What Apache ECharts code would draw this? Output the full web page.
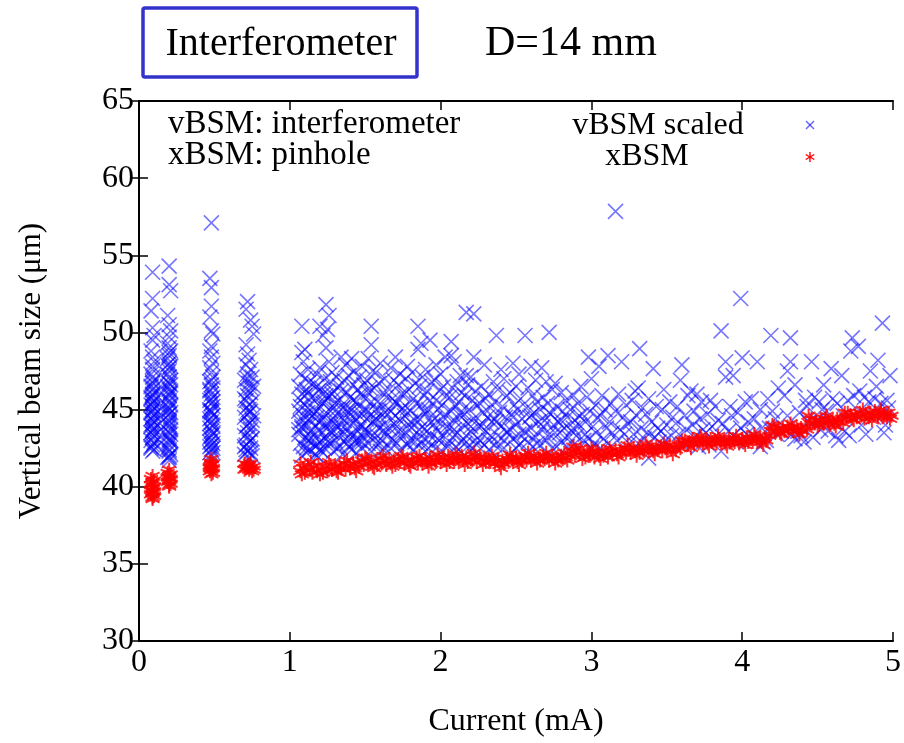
<!DOCTYPE html>
<html><head><meta charset="utf-8">
<script src="https://cdn.jsdelivr.net/npm/echarts@6/dist/echarts.min.js"></script>
<style>html,body{margin:0;padding:0;background:#fff}#c{width:904px;height:743px}</style>
</head><body><div id="c"></div>
<script>
// ---- tick labels ----
const xTicks = [0, 1, 2, 3, 4, 5];
const yTicks = [30, 35, 40, 45, 50, 55, 60, 65];

// ---- vBSM scaled (interferometer), [current mA, size um] ----
const vbsmBunch1 = [[0.09,53.9],[0.09,52.2],[0.08,51.4],[0.09,50.3],[0.10,49.8],[0.09,49.5],[0.08,48.8],[0.09,48.4],[0.10,48.1],[0.09,47.6],[0.08,47.3],[0.09,47.1],[0.10,46.9],[0.09,46.7],[0.08,46.5],[0.09,46.3],[0.10,46.1],[0.09,45.9],[0.08,45.8],[0.10,45.6],[0.09,45.4],[0.08,45.3],[0.10,45.1],[0.09,45.0],[0.08,44.8],[0.10,44.7],[0.09,44.5],[0.08,44.4],[0.10,44.2],[0.09,44.1],[0.08,43.9],[0.10,43.8],[0.09,43.6],[0.08,43.5],[0.10,43.3],[0.09,43.2],[0.08,43.0],[0.10,42.9],[0.09,42.7],[0.08,42.6],[0.10,42.4],[0.09,42.3],[0.09,46.0],[0.09,44.9],[0.09,43.7],[0.09,45.5],[0.09,44.3]];
const vbsmBunch2 = [[0.20,54.3],[0.20,53.1],[0.21,52.7],[0.19,51.1],[0.20,50.5],[0.21,50.1],[0.20,49.7],[0.19,49.3],[0.20,49.0],[0.21,48.8],[0.20,48.5],[0.19,48.3],[0.20,48.0],[0.21,47.8],[0.20,47.5],[0.19,47.3],[0.20,47.1],[0.21,46.9],[0.20,46.7],[0.19,46.5],[0.20,46.3],[0.21,46.1],[0.20,45.9],[0.19,45.7],[0.20,45.5],[0.21,45.3],[0.20,45.1],[0.19,44.9],[0.20,44.7],[0.21,44.5],[0.20,44.3],[0.19,44.1],[0.20,43.9],[0.21,43.7],[0.20,43.5],[0.19,43.3],[0.20,43.1],[0.21,42.9],[0.20,42.7],[0.19,42.5],[0.20,42.3],[0.21,42.1],[0.20,41.9],[0.20,41.7],[0.20,46.0],[0.20,45.0],[0.20,44.0],[0.20,43.0],[0.19,47.9],[0.21,46.6],[0.19,44.6],[0.21,43.4],[0.20,42.0]];
const vbsmBunch3 = [[0.48,57.1],[0.47,53.5],[0.48,52.9],[0.48,51.7],[0.47,51.0],[0.48,50.1],[0.49,49.9],[0.48,49.1],[0.47,48.8],[0.48,48.4],[0.49,48.0],[0.47,47.7],[0.48,47.4],[0.49,47.1],[0.47,46.8],[0.48,46.6],[0.49,46.4],[0.47,46.2],[0.48,46.0],[0.49,45.8],[0.47,45.6],[0.48,45.4],[0.49,45.2],[0.47,45.0],[0.48,44.8],[0.49,44.6],[0.47,44.4],[0.48,44.2],[0.49,44.0],[0.47,43.8],[0.48,43.6],[0.49,43.4],[0.47,43.2],[0.48,43.0],[0.49,42.8],[0.47,42.6],[0.48,42.4],[0.49,42.2],[0.48,42.0],[0.47,44.9],[0.49,43.9],[0.48,43.3],[0.47,42.9],[0.49,42.5],[0.48,44.5],[0.48,45.7]];
const vbsmBunch4 = [[0.72,52.0],[0.71,51.5],[0.74,50.8],[0.75,50.4],[0.76,49.9],[0.71,49.2],[0.72,48.6],[0.73,48.2],[0.71,47.9],[0.74,47.6],[0.72,47.3],[0.75,47.1],[0.70,46.9],[0.73,46.7],[0.76,46.5],[0.71,46.3],[0.74,46.1],[0.72,45.9],[0.70,45.7],[0.75,45.5],[0.73,45.3],[0.71,45.1],[0.74,44.9],[0.72,44.7],[0.70,44.5],[0.75,44.3],[0.73,44.1],[0.71,43.9],[0.74,43.7],[0.72,43.5],[0.70,43.3],[0.75,43.1],[0.73,42.9],[0.71,42.7],[0.74,42.5],[0.72,42.3],[0.70,42.1],[0.75,42.0],[0.73,41.9],[0.72,44.0],[0.74,43.0],[0.71,42.4],[0.73,45.0],[0.76,44.6]];
const vbsmBunchCore = [[0.09,47.8],[0.09,46.8],[0.10,46.4],[0.08,45.7],[0.09,45.2],[0.10,44.6],[0.08,44.0],[0.09,43.4],[0.10,42.8],[0.08,42.5],[0.20,48.7],[0.20,47.7],[0.19,46.8],[0.21,46.2],[0.20,45.6],[0.19,45.2],[0.21,44.8],[0.20,44.2],[0.19,43.6],[0.21,43.0],[0.20,42.4],[0.19,41.9],[0.48,46.9],[0.47,46.3],[0.49,45.5],[0.48,44.9],[0.47,44.1],[0.49,43.5],[0.48,42.7],[0.47,42.2],[0.72,47.0],[0.74,46.4],[0.71,45.6],[0.73,44.8],[0.75,44.0],[0.72,43.2],[0.70,42.6],[0.74,42.2]];
const vbsmRampLow = [
[1.08,50.4],[1.10,48.9],[1.08,48.7],[1.09,48.1],[1.12,47.6],[1.07,47.3],[1.10,47.0],[1.13,46.8],[1.06,46.5],[1.11,46.3],[1.08,46.0],[1.14,45.8],[1.07,45.6],[1.10,45.3],[1.12,45.1],[1.06,44.9],[1.09,44.6],[1.13,44.4],[1.07,44.2],[1.11,44.0],[1.08,43.8],[1.14,43.6],[1.06,43.4],[1.10,43.2],[1.12,43.0],[1.07,42.8],[1.09,42.6],[1.13,42.4],[1.11,42.2],[1.08,42.0],[1.10,45.9],[1.12,44.8],[1.08,43.9],[1.14,42.9],
[1.24,51.8],[1.26,51.1],[1.20,50.4],[1.25,50.2],[1.22,49.8],[1.24,49.0],[1.20,47.7],[1.18,47.3],[1.23,47.0],[1.16,46.7],[1.21,46.4],[1.19,46.2],[1.24,45.9],[1.17,45.7],[1.22,45.4],[1.20,45.2],[1.16,45.0],[1.23,44.7],[1.18,44.5],[1.21,44.3],[1.25,44.1],[1.17,43.9],[1.19,43.7],[1.22,43.5],[1.16,43.3],[1.24,43.1],[1.20,42.9],[1.18,42.7],[1.23,42.5],[1.21,42.3],[1.17,42.1],[1.19,41.9],[1.22,46.0],[1.18,44.9],[1.24,43.8],[1.20,42.4],
[1.26,48.1],[1.34,48.4],[1.28,47.4],[1.31,47.1],[1.27,46.8],[1.33,46.5],[1.29,46.2],[1.26,45.9],[1.32,45.6],[1.30,45.4],[1.35,45.1],[1.27,44.9],[1.33,44.6],[1.29,44.4],[1.26,44.2],[1.31,43.9],[1.34,43.7],[1.28,43.5],[1.32,43.3],[1.30,43.0],[1.27,42.8],[1.33,42.6],[1.29,42.3],[1.35,42.1],[1.31,45.0],[1.28,46.0],[1.34,44.0],
[1.41,48.3],[1.37,47.9],[1.43,47.5],[1.39,47.2],[1.36,46.9],[1.42,46.6],[1.45,46.3],[1.38,46.1],[1.40,45.8],[1.44,45.5],[1.37,45.3],[1.41,45.0],[1.39,44.8],[1.43,44.5],[1.36,44.3],[1.42,44.1],[1.38,43.8],[1.45,43.6],[1.40,43.4],[1.37,43.1],[1.43,42.9],[1.39,42.6],[1.41,42.4],[1.44,42.2],[1.38,44.9],[1.42,43.3],
[1.54,50.4],[1.54,49.2],[1.52,48.3],[1.48,47.8],[1.55,47.5],[1.46,47.1],[1.51,46.9],[1.49,46.6],[1.53,46.4],[1.47,46.0],[1.50,45.7],[1.54,45.5],[1.46,45.2],[1.52,44.9],[1.48,44.7],[1.51,44.4],[1.55,44.2],[1.47,44.0],[1.50,43.7],[1.53,43.5],[1.49,43.2],[1.46,43.0],[1.52,42.8],[1.48,42.5],[1.54,42.3],[1.50,45.0],[1.47,43.9]];
const vbsmRampMid = [
[1.60,48.0],[1.57,47.4],[1.63,47.0],[1.59,46.7],[1.56,46.4],[1.62,46.1],[1.64,45.8],[1.58,45.5],[1.61,45.3],[1.57,45.0],[1.63,44.8],[1.60,44.5],[1.56,44.3],[1.62,44.0],[1.59,43.8],[1.64,43.5],[1.58,43.3],[1.61,43.0],[1.57,42.8],[1.63,42.5],[1.60,42.3],[1.59,44.9],
[1.70,48.4],[1.67,47.7],[1.73,47.3],[1.69,46.9],[1.72,46.6],[1.66,46.3],[1.74,46.0],[1.68,45.7],[1.71,45.4],[1.75,45.1],[1.67,44.9],[1.70,44.6],[1.73,44.3],[1.69,44.1],[1.66,43.8],[1.72,43.6],[1.74,43.3],[1.68,43.1],[1.71,42.8],[1.67,42.5],[1.73,42.3],[1.70,45.5],
[1.85,50.4],[1.85,48.9],[1.78,47.8],[1.81,47.4],[1.77,47.0],[1.83,46.7],[1.79,46.3],[1.76,46.0],[1.82,45.7],[1.84,45.4],[1.78,45.1],[1.80,44.9],[1.76,44.6],[1.83,44.3],[1.79,44.0],[1.81,43.8],[1.77,43.5],[1.84,43.2],[1.80,43.0],[1.78,42.7],[1.82,42.4],
[1.87,49.3],[1.93,49.5],[1.90,47.6],[1.88,47.1],[1.94,46.8],[1.86,46.5],[1.91,46.2],[1.89,45.9],[1.93,45.6],[1.87,45.3],[1.92,45.0],[1.90,44.7],[1.86,44.4],[1.94,44.2],[1.88,43.9],[1.91,43.6],[1.93,43.3],[1.89,43.1],[1.87,42.8],[1.92,42.5],[1.90,42.3],
[2.03,48.4],[1.97,47.9],[2.00,47.3],[1.96,46.9],[2.02,46.5],[1.99,46.2],[2.04,45.9],[1.97,45.6],[2.01,45.3],[1.98,45.0],[2.03,44.7],[1.96,44.4],[2.00,44.1],[2.04,43.9],[1.98,43.6],[2.02,43.3],[1.99,43.0],[2.05,42.8],[1.97,42.5],[2.01,42.3],
[2.07,49.4],[2.07,48.5],[2.09,48.1],[2.13,47.2],[2.11,46.8],[2.08,46.4],[2.14,46.1],[2.06,45.8],[2.12,45.5],[2.10,45.2],[2.07,44.9],[2.13,44.6],[2.09,44.3],[2.15,44.0],[2.06,43.8],[2.11,43.5],[2.08,43.2],[2.14,42.9],[2.10,42.6],[2.12,42.4],
[2.17,51.3],[2.22,51.2],[2.22,48.4],[2.17,47.2],[2.20,47.1],[2.18,46.6],[2.23,46.2],[2.16,45.9],[2.21,45.6],[2.24,45.3],[2.19,45.0],[2.16,44.7],[2.22,44.4],[2.18,44.1],[2.25,43.9],[2.20,43.6],[2.17,43.3],[2.23,43.0],[2.19,42.7],[2.21,42.5],
[2.29,47.9],[2.35,46.8],[2.27,46.5],[2.32,46.0],[2.30,45.7],[2.26,45.4],[2.33,45.1],[2.28,44.8],[2.31,44.5],[2.34,44.2],[2.27,43.9],[2.30,43.6],[2.33,43.3],[2.26,43.0],[2.29,42.7],[2.32,42.4],
[2.37,49.8],[2.40,47.6],[2.42,47.0],[2.38,46.3],[2.44,45.9],[2.36,45.5],[2.41,45.2],[2.39,44.8],[2.43,44.5],[2.37,44.2],[2.40,43.9],[2.44,43.6],[2.38,43.3],[2.42,43.0],[2.36,42.7],[2.41,42.4],
[2.48,48.0],[2.52,47.3],[2.50,46.5],[2.46,46.1],[2.53,45.7],[2.49,45.3],[2.51,45.0],[2.47,44.7],[2.54,44.4],[2.50,44.0],[2.46,43.7],[2.52,43.4],[2.48,43.1],[2.53,42.8],[2.50,42.5],
[2.56,49.8],[2.60,47.8],[2.63,46.9],[2.58,46.4],[2.61,45.9],[2.64,45.5],[2.57,45.1],[2.62,44.8],[2.59,44.5],[2.65,44.2],[2.60,43.8],[2.56,43.5],[2.63,43.2],[2.58,42.9],[2.61,42.6],
[2.72,50.0],[2.67,47.7],[2.70,46.8],[2.74,46.3],[2.68,45.8],[2.71,45.4],[2.66,45.0],[2.73,44.7],[2.69,44.3],[2.75,44.0],[2.67,43.7],[2.72,43.4],[2.70,43.0],[2.66,42.7],[2.74,42.5],
[2.76,46.7],[2.80,46.1],[2.83,45.6],[2.77,45.2],[2.81,44.9],[2.84,44.5],[2.78,44.2],[2.82,43.8],[2.79,43.5],[2.85,43.2],[2.80,42.9],[2.77,42.6],
[2.93,46.5],[2.88,45.9],[2.91,45.4],[2.86,45.0],[2.94,44.7],[2.89,44.3],[2.92,44.0],[2.87,43.6],[2.90,43.3],[2.95,43.0],[2.88,42.7]];
const vbsmRampDense = [[1.06,43.7],[1.09,44.3],[1.11,42.5],[1.13,43.3],[1.15,44.6],[1.07,45.2],[1.12,46.1],[1.17,42.6],[1.19,44.2],[1.21,43.0],[1.23,45.5],[1.18,46.5],[1.25,42.9],[1.27,43.6],[1.29,45.1],[1.32,42.5],[1.30,44.1],[1.34,46.2],[1.36,43.4],[1.38,42.8],[1.40,44.4],[1.42,45.6],[1.44,43.0],[1.46,44.6],[1.48,42.9],[1.50,43.5],[1.52,46.1],[1.55,43.3],[1.57,44.4],[1.59,42.7],[1.62,43.6],[1.65,44.7],[1.68,42.9],[1.71,43.9],[1.74,45.0],[1.77,42.8],[1.80,44.2],[1.83,42.9],[1.86,43.7],[1.89,44.9],[1.92,42.9],[1.95,44.0],[1.98,43.1],[2.02,44.5],[2.05,42.6],[2.09,43.7],[2.13,44.8],[2.16,42.8],[2.20,43.9],[2.24,42.7],[2.28,44.1],[2.32,43.0],[2.36,44.4],[2.40,42.7],[2.44,43.5],[2.48,44.5],[2.52,42.7],[2.56,43.6],[2.60,44.6],[2.64,42.8],[2.68,43.9],[2.72,44.8],[2.76,43.5],[2.80,44.3],[2.84,42.6],[2.88,43.8],[2.92,44.6],[2.96,43.4]];
const vbsmRampHigh = [
[2.98,48.4],[3.05,47.8],[3.00,47.0],[2.97,45.8],[3.03,45.3],[2.99,44.9],[3.04,44.5],[2.96,44.2],[3.01,43.9],[3.03,43.5],[2.98,43.1],[3.02,42.8],[3.00,42.5],
[3.11,48.5],[3.07,45.9],[3.13,45.4],[3.09,45.0],[3.06,44.6],[3.12,44.2],[3.10,43.8],[3.14,43.5],[3.08,43.1],[3.11,42.8],[3.06,42.5],
[3.16,57.85],[3.20,48.1],[3.18,46.0],[3.23,45.3],[3.16,44.9],[3.21,44.5],[3.24,44.1],[3.19,43.7],[3.22,43.4],[3.17,43.0],[3.25,42.8],
[3.32,48.95],[3.31,46.4],[3.29,46.2],[3.27,45.6],[3.34,45.1],[3.30,44.6],[3.26,44.2],[3.33,43.8],[3.28,43.4],[3.35,43.1],[3.31,42.8],
[3.41,47.65],[3.38,45.7],[3.43,45.2],[3.36,44.7],[3.40,44.2],[3.44,43.8],[3.37,43.5],[3.42,43.2],[3.38,41.85],[3.45,42.9],
[3.48,46.3],[3.52,45.5],[3.47,45.0],[3.54,44.5],[3.50,44.0],[3.46,43.6],[3.53,43.3],[3.49,43.0],
[3.60,47.9],[3.59,46.9],[3.66,46.2],[3.64,45.9],[3.57,45.2],[3.62,44.6],[3.56,44.1],[3.63,43.7],[3.58,43.4],[3.61,42.7],
[3.70,46.0],[3.73,45.5],[3.68,44.9],[3.72,44.4],[3.67,44.0],[3.74,43.7],[3.69,43.3],[3.71,42.6],
[3.79,45.6],[3.82,45.2],[3.77,44.7],[3.84,44.3],[3.80,43.9],[3.76,43.5],[3.83,43.3],[3.78,42.7],
[3.86,50.1],[3.89,48.1],[3.89,47.1],[3.94,47.2],[3.92,45.2],[3.93,44.6],[3.87,44.1],[3.91,43.6],[3.86,42.3],[3.94,43.3],
[3.99,52.2],[4.00,48.35],[4.02,45.5],[3.97,44.8],[4.04,44.2],[3.99,43.8],[4.03,43.4],[3.96,42.9],
[4.10,48.1],[4.06,45.7],[4.12,45.0],[4.08,44.4],[4.13,43.8],[4.07,43.4],[4.12,42.6],[4.14,42.9],
[4.19,49.8],[4.17,45.7],[4.24,46.4],[4.22,44.4],[4.20,44.9],[4.18,43.8],[4.23,43.4],[4.16,43.0],
[4.32,49.65],[4.30,47.5],[4.32,48.1],[4.28,45.9],[4.35,46.6],[4.26,43.6],[4.35,43.1],[4.30,44.6],[4.33,43.4],
[4.39,43.3],[4.42,45.6],[4.38,44.8],[4.44,44.2],[4.37,43.6],[4.41,42.9],[4.43,45.2],
[4.46,48.1],[4.48,45.8],[4.51,45.5],[4.54,46.6],[4.53,45.0],[4.49,44.3],[4.47,43.2],[4.52,43.7],
[4.59,47.65],[4.57,43.6],[4.62,43.3],[4.60,45.7],[4.63,45.4],[4.56,44.9],[4.61,44.2],[4.64,43.0],
[4.66,47.2],[4.73,49.65],[4.72,48.8],[4.68,43.6],[4.70,45.6],[4.74,45.9],[4.67,44.6],[4.71,43.3],
[4.77,49.1],[4.79,44.0],[4.81,45.8],[4.84,45.5],[4.85,47.5],[4.78,46.2],[4.82,43.4],[4.80,44.7],
[4.93,50.6],[4.90,48.2],[4.89,46.5],[4.98,47.2],[4.95,44.0],[4.88,45.7],[4.92,45.4],[4.96,45.6],[4.87,44.5],[4.94,43.5],[4.97,45.1]];

// ---- xBSM (pinhole) ----
const xbsmBunch1 = [[0.09,40.7],[0.08,40.5],[0.10,40.4],[0.09,40.3],[0.08,40.1],[0.10,40.0],[0.09,39.9],[0.08,39.8],[0.10,39.7],[0.09,39.6],[0.08,39.5],[0.10,39.4],[0.09,39.3],[0.09,39.2],[0.09,40.2],[0.09,39.7]];
const xbsmBunch2 = [[0.20,41.1],[0.19,40.9],[0.21,40.8],[0.20,40.7],[0.19,40.6],[0.21,40.5],[0.20,40.4],[0.19,40.3],[0.21,40.2],[0.20,40.1],[0.20,40.0],[0.20,40.6]];
const xbsmBunch3 = [[0.48,41.8],[0.47,41.6],[0.49,41.5],[0.48,41.4],[0.47,41.3],[0.49,41.2],[0.48,41.1],[0.47,41.0],[0.49,40.9],[0.48,40.8],[0.48,41.5],[0.47,41.2]];
const xbsmBunch4 = [[0.70,41.5],[0.72,41.4],[0.74,41.5],[0.76,41.3],[0.71,41.2],[0.73,41.1],[0.75,41.0],[0.70,41.1],[0.72,41.3],[0.74,41.2],[0.76,41.1],[0.73,41.4]];
const xbsmRampLow = [[1.07,41.0],[1.07,41.5],[1.09,41.2],[1.10,40.9],[1.12,41.4],[1.13,41.1],[1.15,40.9],[1.16,41.3],[1.18,41.0],[1.19,41.4],[1.21,41.1],[1.22,40.9],[1.24,41.3],[1.25,41.0],[1.27,41.4],[1.28,41.1],[1.30,41.3],[1.31,41.0],[1.33,41.4],[1.34,41.2],[1.36,41.5],[1.37,41.1],[1.39,41.4],[1.40,41.2],[1.42,41.5],[1.43,41.2],
[1.45,41.6],[1.46,41.3],[1.48,41.7],[1.49,41.4],[1.51,41.8],[1.52,41.5],[1.54,41.6],[1.55,41.3],[1.57,41.7],[1.58,41.4],
[1.60,41.8],[1.61,41.5],[1.63,41.7],[1.64,41.4],[1.66,41.8],[1.67,41.5],[1.69,41.7],[1.70,41.4],[1.72,41.8],[1.73,41.6],[1.75,41.9],[1.76,41.5],[1.78,41.7],[1.79,41.4],[1.81,41.8],[1.82,41.6],[1.84,41.9],[1.85,41.5],[1.87,41.7],[1.88,41.5],[1.90,41.8],[1.91,41.6],[1.93,41.9],[1.94,41.5],[1.96,41.7],[1.97,41.6],[1.99,41.9]];
const xbsmRampMid = [[2.00,41.6],[2.02,41.9],[2.03,41.7],[2.05,42.0],[2.06,41.6],[2.08,41.8],[2.09,41.6],[2.11,41.9],[2.12,41.7],[2.14,42.0],[2.15,41.7],[2.17,41.9],[2.18,41.6],[2.20,41.8],[2.21,41.7],[2.23,42.0],[2.24,41.6],[2.26,41.9],[2.27,41.7],[2.29,41.9],[2.30,41.6],[2.32,41.8],[2.33,41.6],
[2.35,41.8],[2.36,41.5],[2.38,41.7],[2.39,41.4],[2.41,41.7],[2.42,41.5],[2.44,41.8],
[2.45,41.6],[2.47,41.9],[2.48,41.7],[2.50,41.9],[2.51,41.6],[2.53,41.8],[2.54,41.7],[2.56,42.0],[2.57,41.7],[2.59,41.9],[2.60,41.7],[2.62,42.0],[2.63,41.8],[2.65,41.9],[2.66,41.7],[2.68,42.0],[2.69,41.8],[2.71,41.9],[2.72,41.7],[2.74,42.0],[2.75,41.8],[2.77,41.9],[2.78,41.7],[2.80,42.0],[2.81,41.8],[2.83,41.9],[2.84,41.7],[2.86,42.0],
[2.87,42.3],[2.89,42.0],[2.90,42.4],[2.92,42.2],[2.93,42.5],[2.95,42.1]];
const xbsmRampHigh = [[2.96,41.9],[2.98,42.2],[2.99,42.0],[3.01,42.3],[3.02,41.9],[3.04,42.2],[3.05,42.0],[3.07,42.3],[3.08,42.0],[3.10,42.2],[3.11,41.9],[3.13,42.3],[3.14,42.1],
[3.16,42.4],[3.17,42.1],[3.19,42.3],[3.20,42.2],[3.22,42.5],[3.23,42.2],[3.25,42.4],[3.26,42.2],[3.28,42.5],[3.29,42.3],[3.31,42.5],[3.32,42.2],[3.34,42.4],[3.35,42.3],[3.37,42.6],[3.38,42.3],[3.40,42.5],[3.41,42.3],[3.43,42.6],[3.44,42.4],[3.46,42.6],[3.47,42.3],[3.49,42.5],[3.50,42.4],[3.52,42.7],[3.53,42.4],[3.55,42.6],[3.56,42.4],[3.58,42.7],[3.59,42.5],
[3.61,42.8],[3.62,43.0],[3.64,42.7],[3.65,42.9],[3.67,43.1],[3.68,42.8],[3.70,43.0],[3.71,42.8],[3.73,43.1],[3.74,42.9],[3.76,43.0],[3.77,42.8],[3.79,43.1],[3.80,42.9],[3.82,43.0],[3.83,42.8],[3.85,43.1],[3.86,42.9],[3.88,43.0],[3.89,42.8],[3.91,43.1],[3.92,42.9],[3.94,43.1],[3.95,42.9],[3.97,43.0],[3.98,42.8],[4.00,43.1],[4.01,42.9],[4.03,43.2],[4.04,42.9],[4.06,43.1],[4.07,42.9],[4.09,43.2],[4.10,43.0],[4.12,43.1],[4.13,42.9],[4.15,43.2],[4.16,43.0],[4.18,43.3],
[4.19,43.6],[4.21,43.9],[4.22,43.6],[4.24,43.8],[4.25,43.5],[4.27,43.8],[4.28,43.6],[4.30,43.9],[4.31,43.7],[4.33,43.8],[4.34,43.6],[4.36,43.9],[4.37,43.7],[4.39,43.8],[4.40,43.6],[4.42,43.9],[4.43,43.7],
[4.45,44.1],[4.46,44.4],[4.48,44.1],[4.49,44.3],[4.51,44.0],[4.52,44.3],[4.54,44.1],[4.55,44.4],[4.57,44.2],[4.58,44.0],[4.60,44.3],[4.61,44.1],[4.63,44.4],[4.64,44.2],[4.66,44.4],[4.67,44.1],
[4.69,44.5],[4.70,44.8],[4.72,44.6],[4.73,44.4],[4.75,44.7],[4.76,44.5],[4.78,44.8],[4.79,44.6],[4.81,44.4],[4.82,44.7],[4.84,44.5],[4.85,44.8],[4.87,44.6],[4.88,44.9],[4.90,44.6],[4.91,44.8],[4.93,44.5],[4.94,44.7],[4.96,44.5],[4.97,44.8],[4.99,44.6]];
const xbsmRampEdge = [[1.08,40.8],[1.14,41.6],[1.20,40.8],[1.26,41.6],[1.32,40.9],[1.38,41.7],[1.44,41.0],[1.50,41.9],[1.56,41.2],[1.62,42.0],[1.68,41.3],[1.74,42.0],[1.80,41.3],[1.86,42.0],[1.92,41.3],[1.98,42.1],[2.04,41.4],[2.10,42.1],[2.16,41.4],[2.22,42.2],[2.28,41.4],[2.34,42.0],[2.40,41.2],[2.46,42.1],[2.52,41.4],[2.58,42.2],[2.64,41.5],[2.70,42.2],[2.76,41.5],[2.82,42.2],[2.88,42.6],[2.94,41.8],[3.00,42.5],[3.06,41.8],[3.12,42.5],[3.18,41.9],[3.24,42.7],[3.30,42.0],[3.36,42.8],[3.42,42.1],[3.48,42.8],[3.54,42.1],[3.60,43.0],[3.66,42.5],[3.72,43.3],[3.78,42.6],[3.84,43.3],[3.90,42.6],[3.96,43.3],[4.02,42.7],[4.08,43.4],[4.14,42.7],[4.20,44.0],[4.26,43.4],[4.32,44.1],[4.38,43.4],[4.44,44.6],[4.50,43.9],[4.56,44.6],[4.62,43.9],[4.68,44.8],[4.74,44.3],[4.80,45.0],[4.86,44.3],[4.92,45.0],[4.98,44.4]];

const vbsmData = [].concat(vbsmBunch1, vbsmBunch2, vbsmBunch3, vbsmBunch4, vbsmBunchCore, vbsmRampLow, vbsmRampMid, vbsmRampDense, vbsmRampHigh);
const xbsmData = [].concat(xbsmBunch1, xbsmBunch2, xbsmBunch3, xbsmBunch4, xbsmRampLow, xbsmRampMid, xbsmRampHigh, xbsmRampEdge);

const SERIF = '"Liberation Serif","DejaVu Serif",serif';
const crossPath = 'path://M0,0L10,10M10,0L0,10';
const starPath = 'path://M5,0L5,10M0.67,2.5L9.33,7.5M0.67,7.5L9.33,2.5';

const chart = echarts.init(document.getElementById('c'));
const axisLine = {show: true, lineStyle: {color: '#000', width: 2}};
const tick = {show: true, inside: true, length: 9, lineStyle: {color: '#000', width: 1.5}};
chart.setOption({
  animation: false,
  backgroundColor: '#fff',
  grid: {left: 139, right: 9, top: 101, bottom: 99, containLabel: false},
  xAxis: [
    {type: 'value', min: xTicks[0], max: xTicks[xTicks.length - 1], interval: 1, position: 'bottom',
     axisLine, axisTick: tick, splitLine: {show: false},
     axisLabel: {color: '#000', fontFamily: SERIF, fontSize: 32, margin: 6},
     name: 'Current (mA)', nameLocation: 'middle', nameGap: 65,
     nameTextStyle: {color: '#000', fontFamily: SERIF, fontSize: 32}},
    {type: 'value', min: xTicks[0], max: xTicks[xTicks.length - 1], interval: 1, position: 'top',
     axisLine, axisTick: tick, axisLabel: {show: false}, splitLine: {show: false}}
  ],
  yAxis: [
    {type: 'value', min: yTicks[0], max: yTicks[yTicks.length - 1], interval: 5, position: 'left',
     axisLine, axisTick: tick, splitLine: {show: false},
     axisLabel: {color: '#000', fontFamily: SERIF, fontSize: 32, margin: 5},
     name: 'Vertical beam size (\u03bcm)', nameLocation: 'middle', nameGap: 92, nameRotate: 90,
     nameTextStyle: {color: '#000', fontFamily: SERIF, fontSize: 31}},
    {type: 'value', min: yTicks[0], max: yTicks[yTicks.length - 1], interval: 5, position: 'right',
     axisLine, axisTick: tick, axisLabel: {show: false}, splitLine: {show: false}}
  ],
  series: [
    {name: 'vBSM scaled', type: 'scatter', data: vbsmData, symbol: crossPath, symbolSize: 15,
     progressive: 0, silent: true,
     itemStyle: {color: 'rgba(0,0,255,0.68)', borderColor: 'rgba(0,0,255,0.68)', borderWidth: 1.6}},
    {name: 'xBSM', type: 'scatter', data: xbsmData, symbol: starPath, symbolSize: 14,
     progressive: 0, silent: true,
     itemStyle: {color: '#ff0000', borderColor: '#ff0000', borderWidth: 2}}
  ],
  graphic: [
    {type: 'rect', shape: {x: 143, y: 8, width: 274, height: 69, r: 2},
     style: {fill: '#fff', stroke: '#3333cc', lineWidth: 3.5}},
    {type: 'text', x: 281, y: 44, style: {text: 'Interferometer', font: '40px ' + SERIF, fill: '#000', align: 'center', verticalAlign: 'middle'}},
    {type: 'text', x: 485, y: 44, style: {text: 'D=14 mm', font: '42px ' + SERIF, fill: '#000', align: 'left', verticalAlign: 'middle'}},
    {type: 'text', x: 168, y: 124, style: {text: 'vBSM: interferometer', font: '33px ' + SERIF, fill: '#000', align: 'left', verticalAlign: 'middle'}},
    {type: 'text', x: 168, y: 155, style: {text: 'xBSM: pinhole', font: '33px ' + SERIF, fill: '#000', align: 'left', verticalAlign: 'middle'}},
    {type: 'text', x: 658, y: 126, style: {text: 'vBSM scaled', font: '32px ' + SERIF, fill: '#000', align: 'center', verticalAlign: 'middle'}},
    {type: 'text', x: 647, y: 157, style: {text: 'xBSM', font: '32px ' + SERIF, fill: '#000', align: 'center', verticalAlign: 'middle'}},
    {type: 'line', shape: {x1: 806, y1: 121, x2: 814, y2: 129}, style: {stroke: 'rgba(0,0,255,0.6)', lineWidth: 1.4}},
    {type: 'line', shape: {x1: 814, y1: 121, x2: 806, y2: 129}, style: {stroke: 'rgba(0,0,255,0.6)', lineWidth: 1.4}},
    {type: 'line', shape: {x1: 810, y1: 152, x2: 810, y2: 162}, style: {stroke: '#ff0000', lineWidth: 1.4}},
    {type: 'line', shape: {x1: 805.7, y1: 154.5, x2: 814.3, y2: 159.5}, style: {stroke: '#ff0000', lineWidth: 1.4}},
    {type: 'line', shape: {x1: 805.7, y1: 159.5, x2: 814.3, y2: 154.5}, style: {stroke: '#ff0000', lineWidth: 1.4}}
  ]
});
</script></body></html>
